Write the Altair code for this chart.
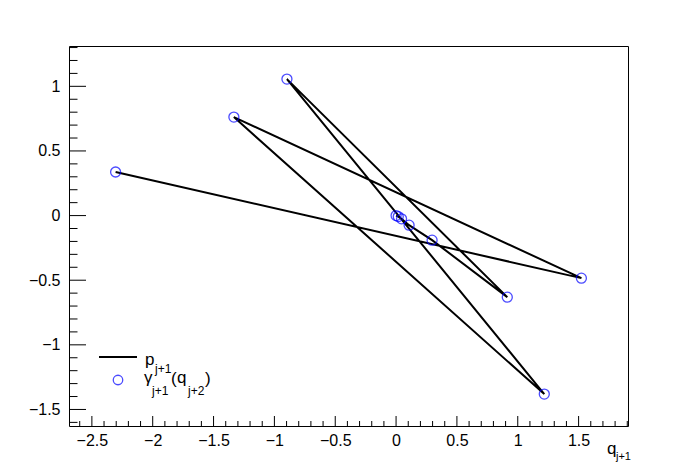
import altair as alt
import pandas as pd
import numpy as np

# data (sequence order)
q_vals = [-2.305, 1.523, -1.333, 1.218, -0.897, 0.914, 0.296, 0.107, 0.045, 0.018, 0.0]
p_vals = [0.337, -0.484, 0.762, -1.381, 1.056, -0.631, -0.190, -0.074, -0.025, -0.008, 0.0]
order = list(range(len(q_vals)))

x_major = [-2.5, -2.0, -1.5, -1.0, -0.5, 0.0, 0.5, 1.0, 1.5]
y_major = [-1.5, -1.0, -0.5, 0.0, 0.5, 1.0]
x_minor = [round(v, 1) for v in np.arange(-2.6, 1.95, 0.1) if all(abs(v - m) > 1e-6 for m in x_major)]
y_minor = [round(v, 1) for v in np.arange(-1.6, 1.35, 0.1) if all(abs(v - m) > 1e-6 for m in y_major)]

XDOM = [-2.688, 1.906]
YDOM = [-1.628, 1.312]
W, H = 559, 380
FONT = "Liberation Sans"

df = pd.DataFrame({"q": q_vals, "p": p_vals, "o": order})
xs = alt.Scale(domain=XDOM, nice=False, zero=False)
ys = alt.Scale(domain=YDOM, nice=False, zero=False)

xaxis = alt.Axis(values=x_major, format=".1~f", ticks=False, domain=False, grid=False,
                 labelFont=FONT, labelFontSize=16, labelColor="black", labelPadding=6, title=None)
yaxis = alt.Axis(values=y_major, format=".1~f", ticks=False, domain=False, grid=False,
                 labelFont=FONT, labelFontSize=16, labelColor="black", labelPadding=9, title=None)

line = alt.Chart(df).mark_line(color="black", strokeWidth=2).encode(
    x=alt.X("q:Q", scale=xs, axis=xaxis),
    y=alt.Y("p:Q", scale=ys, axis=yaxis),
    order="o:Q",
)
pts = alt.Chart(df).mark_point(shape="circle", filled=False, color="#0000ff", size=100, strokeWidth=1.3).encode(
    x=alt.X("q:Q", scale=xs), y=alt.Y("p:Q", scale=ys)
)

def xticks(vals, L):
    return alt.Chart(pd.DataFrame({"v": vals})).mark_rule(color="black", strokeWidth=1).encode(
        x=alt.X("v:Q", scale=xs), y=alt.value(H), y2=alt.value(H - L))

def yticks(vals, L):
    return alt.Chart(pd.DataFrame({"v": vals})).mark_rule(color="black", strokeWidth=1).encode(
        y=alt.Y("v:Q", scale=ys), x=alt.value(0), x2=alt.value(L))

def txt(s, x, y, size):
    return alt.Chart(pd.DataFrame({"t": [s]})).mark_text(
        align="left", baseline="alphabetic", font=FONT, fontSize=size, color="black"
    ).encode(text="t:N", x=alt.value(x), y=alt.value(y))

legend_line = alt.Chart(pd.DataFrame({"a": [0]})).mark_rule(color="black", strokeWidth=2).encode(
    x=alt.value(30), x2=alt.value(68), y=alt.value(311))
legend_pt = alt.Chart(pd.DataFrame({"a": [0]})).mark_point(
    shape="circle", filled=False, color="#0000ff", size=90, strokeWidth=1.3
).encode(x=alt.value(49), y=alt.value(334))

texts = [
    txt("q", 538, 408, 17), txt("j+1", 547, 414, 11),
    txt("p", 76, 319, 17), txt("j+1", 86, 327, 12),
    txt("γ", 75, 337, 17), txt("j+1", 83, 349, 12),
    txt("(", 102, 338, 17), txt("q", 108, 337, 17), txt("j+2", 119, 349, 12),
    txt(")", 136, 338, 17),
]

chart = alt.layer(
    line, pts,
    xticks(x_major, 10), xticks(x_minor, 5),
    yticks(y_major, 17), yticks(y_minor, 8.5),
    legend_line, legend_pt, *texts
).properties(
    width=W, height=H,
    autosize=alt.AutoSizeParams(type="none"),
    padding={"left": 61, "top": 38, "right": 62, "bottom": 41},
    background="white",
).configure_view(stroke="black", strokeWidth=1)

chart.save("out.html", embed_options={"renderer": "svg", "actions": False})
